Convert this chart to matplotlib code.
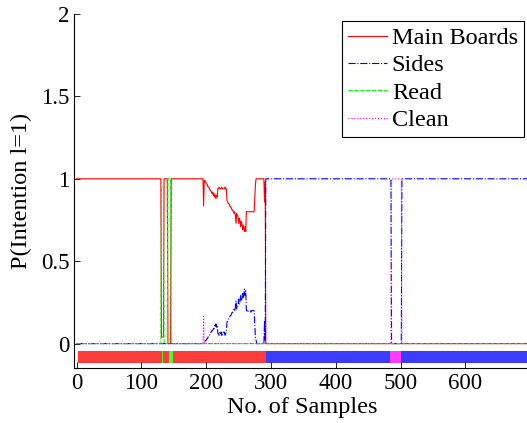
import numpy as np
import matplotlib.pyplot as plt

plt.rcParams['font.family'] = ['Liberation Serif', 'DejaVu Serif']

n_samples = 700

# intention probabilities, stored as runs of (value, count) plus the noisy stretch
main_head = [(1.0, 131), (0.04, 4), (1.0, 6), (0.0, 5), (1.0, 50)]
main_mid = [0.835, 0.99,
            0.99, 0.98, 0.97, 0.97, 0.96, 0.95, 0.95, 0.94, 0.93, 0.93,
            0.92, 0.91, 0.92, 0.90, 0.91, 0.89, 0.90, 0.88, 0.90, 0.89,
            0.94, 0.94, 0.95, 0.94, 0.94, 0.94, 0.95, 0.94, 0.94, 0.94,
            0.94, 0.95, 0.94, 0.94,
            0.87, 0.86, 0.85, 0.85, 0.84, 0.83, 0.83, 0.82, 0.81, 0.81,
            0.80, 0.79, 0.80, 0.78, 0.73, 0.79,
            0.78, 0.77, 0.73, 0.76, 0.75, 0.71, 0.74, 0.73, 0.69, 0.72,
            0.70, 0.68, 0.71, 0.68,
            0.80, 0.80, 0.80, 0.80, 0.80, 0.80, 0.80, 0.80, 0.80, 0.80,
            0.80, 0.80, 0.80,
            0.88, 0.97,
            1.0, 1.0, 1.0, 1.0, 1.0, 1.0, 1.0, 1.0, 1.0, 1.0, 1.0, 1.0, 1.0,
            0.86, 0.98]
main_tail = [(0.0, 408)]

sides_head = [(0.0, 196)]
sides_mid = [0.0, 0.01,
             0.01, 0.02, 0.02, 0.03, 0.03, 0.04, 0.05, 0.05, 0.06, 0.07,
             0.07, 0.08, 0.08, 0.09, 0.09, 0.11, 0.10, 0.12, 0.10, 0.11,
             0.06, 0.06, 0.05, 0.07, 0.06, 0.07, 0.05, 0.06, 0.07, 0.06,
             0.07, 0.05, 0.06, 0.07,
             0.13, 0.14, 0.15, 0.15, 0.16, 0.17, 0.17, 0.18, 0.19, 0.19,
             0.20, 0.21, 0.20, 0.22, 0.26, 0.21,
             0.22, 0.23, 0.27, 0.24, 0.25, 0.29, 0.26, 0.27, 0.31, 0.28,
             0.30, 0.33, 0.29, 0.32,
             0.20, 0.20, 0.19, 0.20, 0.20, 0.20, 0.20, 0.19, 0.20, 0.20,
             0.20, 0.20, 0.20,
             0.12, 0.03,
             0.02, 0.0, 0.0, 0.0, 0.0, 0.0, 0.0, 0.0, 0.0, 0.0, 0.0, 0.0, 0.0,
             0.14, 0.02]
sides_tail = [(1.0, 194), (0.0, 16), (1.0, 198)]

read_runs = [(0.0, 131), (0.95, 4), (0.0, 6), (1.0, 5), (0.0, 554)]
clean_runs = [(0.0, 196), (0.165, 1), (0.0, 289), (1.0, 16), (0.0, 198)]

# ground-truth intention per sample: 0 main, 1 sides, 2 read, 3 clean
truth_runs = [(0, 130), (2, 1), (0, 10), (2, 6), (0, 143), (1, 191), (3, 18), (1, 201)]


def expand(runs):
    out = []
    for v, c in runs:
        out += [v] * c
    return out


x = np.arange(n_samples)
main = np.array(expand(main_head) + main_mid + expand(main_tail))
sides = np.array(expand(sides_head) + sides_mid + expand(sides_tail))
read = np.array(expand(read_runs))
clean = np.array(expand(clean_runs))
truth = np.array(expand(truth_runs))

fig = plt.figure(figsize=(5.27, 4.23), dpi=100)
ax = fig.add_axes([0.1404, 0.1293, 0.867, 0.8376])

ax.plot(x, main, color='#ff0000', lw=0.8, label='Main Boards')
ax.plot(x, sides, color='#0000ff', lw=0.8, ls='-.', label='Sides')
ax.plot(x, read, color='#00ff00', lw=0.8, ls='--', label='Read')
ax.plot(x, clean, color='#ff00ff', lw=0.8, ls=':', label='Clean')

bar_cols = np.array(['#ff3c3c', '#3c3cff', '#3cff3c', '#ff3cff'])[truth]
ax.bar(x + 2, 0.075, bottom=-0.12, width=1.0, align='edge', color=bar_cols, linewidth=0)

ax.set_xlim(-4, 701)
ax.set_ylim(-0.15, 2)
ax.set_xticks(range(0, 601, 100))
ax.set_yticks([0, 0.5, 1, 1.5, 2])
ax.set_yticklabels(['0', '0.5', '1', '1.5', '2'])
ax.tick_params(direction='in', length=4, width=0.6, labelsize=16.5)
ax.spines['top'].set_visible(False)
ax.spines['right'].set_visible(False)
ax.set_xlabel('No. of Samples', fontsize=17.5, labelpad=2)
ax.set_ylabel('P(Intention l=1)', fontsize=17.5, labelpad=6)

leg = ax.legend(loc='upper right', bbox_to_anchor=(0.9943, 0.9504),
                bbox_transform=fig.transFigure, borderaxespad=0,
                fancybox=False, edgecolor='black', framealpha=1,
                fontsize=17.5, handlelength=1.6, handletextpad=0.2,
                labelspacing=0.22, borderpad=0.25)
leg.get_frame().set_linewidth(0.8)

fig.savefig('out.png', dpi=100)
